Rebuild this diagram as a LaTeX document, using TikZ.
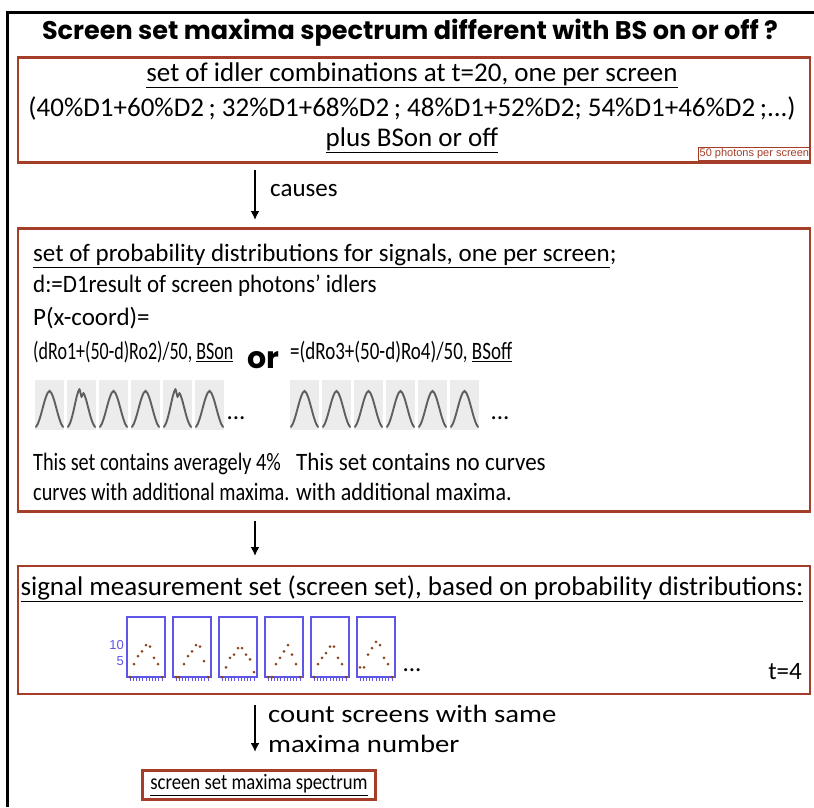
\documentclass[tikz,border=0pt]{standalone}
\usepackage{fontspec}
\setmainfont{Carlito}
\newfontfamily\headfont{Poppins}
\newfontfamily\tagfont{Liberation Sans}
\usetikzlibrary{positioning,arrows.meta}
\definecolor{boxred}{RGB}{165,62,40}
\definecolor{scrblue}{RGB}{95,85,230}
\definecolor{dotbrown}{RGB}{140,70,30}
\definecolor{thumbgray}{RGB}{236,236,236}
\definecolor{curvegray}{RGB}{95,95,95}
\def\bellthumb(#1){%
  \fill[thumbgray] (#1,380) rectangle ++(29,50);
  \draw[curvegray, line width=1.9pt, line cap=round] (#1+1,427) .. controls (#1+6,421) and (#1+10,392) .. (#1+14.5,391) .. controls (#1+19,392) and (#1+23,421) .. (#1+28,427);}
\def\bumpthumb(#1){%
  \fill[thumbgray] (#1,380) rectangle ++(29,50);
  \draw[curvegray, line width=1.9pt, line cap=round, line join=round] (#1+1,427) .. controls (#1+6,421) and (#1+9,393) .. (#1+12.5,389) -- (#1+14.5,397) -- (#1+16.5,393) .. controls (#1+20,398) and (#1+23,421) .. (#1+28,427);}
\tikzset{
  redbox/.style={draw=boxred, line width=2.5pt, inner sep=0pt},
  txt/.style={inner sep=0pt, font=\fontsize{25}{30}\selectfont},
  bigtxt/.style={inner sep=0pt, font=\fontsize{27}{32}\selectfont},
  flow/.style={line width=2pt, -{Latex[length=9pt,width=9pt]}},
}
\begin{document}
\begin{tikzpicture}[x=1pt,y=-1pt]
  \useasboundingbox (0,0) rectangle (814,807);
  %%%%% frame %%%%%
  \draw[line width=3pt] (7,807) -- (7,12) -- (814,12);
  \node[inner sep=0pt, font=\headfont\bfseries\fontsize{25.5}{28}\selectfont] (title) at (410,33) {Screen set maxima spectrum different with BS on or off ?};

  %%%%% idlers %%%%%
  \node[redbox, minimum width=792pt, minimum height=105pt] (idlers) at (414,110) {};
  \node[bigtxt] (idl1) at (412,75) {\underline{set of idler combinations at t=20, one per screen}};
  \node[bigtxt] (idl2) at (412,108) {(40\%D1+60\%D2\,; 32\%D1+68\%D2\,; 48\%D1+52\%D2; 54\%D1+46\%D2\,;...)};
  \node[bigtxt] (idl3) at (412,140) {\underline{plus BSon or off}};
  \node[draw=boxred, line width=0.8pt, text=boxred, inner sep=1.5pt, font=\tagfont\fontsize{11}{12}\selectfont, anchor=south east] (photons) at (811,161) {50 photons per screen};

  \coordinate (c1a) at (255,170);
  \coordinate (c1b) at (255,220);
  \draw[flow] (c1a) -- (c1b);
  \node[txt, anchor=west] (causes) at (270,191) {causes};

  %%%%% distributions %%%%%
  \node[redbox, minimum width=792pt, minimum height=283pt] (probs) at (414,370) {};
  \node[txt, anchor=west] (pr1) at (33,256) {\underline{set of probability distributions for signals, one per screen};};
  \node[txt, anchor=west] (pr2) at (33,286) {\scalebox{0.92}[1]{d:=D1result of screen photons’ idlers}};
  \node[txt, anchor=west] (pr3) at (33,318) {P(x-coord)=};
  \node[txt, anchor=west] (bson) at (33,352) {\scalebox{0.72}[1]{(dRo1+(50-d)Ro2)/50, \underline{BSon}}};
  \node[inner sep=0pt, font=\headfont\bfseries\fontsize{30}{32}\selectfont] (ortxt) at (263,360) {or};
  \node[txt, anchor=west] (bsoff) at (290,352) {\scalebox{0.76}[1]{=(dRo3+(50-d)Ro4)/50, \underline{BSoff}}};

  \bellthumb(35)
  \bumpthumb(67)
  \bellthumb(99)
  \bellthumb(131)
  \bumpthumb(163)
  \bellthumb(195)
  \foreach \x in {290,322,354,386,418,450} {\bellthumb(\x)}
  \node[txt] (moreon) at (236,418) {...};
  \node[txt] (moreoff) at (500,418) {...};

  \node[txt, anchor=west, align=left] (onnote) at (33,477) {\scalebox{0.81}[1]{This set contains averagely 4\%}\\\scalebox{0.81}[1]{curves with additional maxima.}};
  \node[txt, anchor=west, align=left] (offnote) at (296,477) {\scalebox{0.92}[1]{This set contains no curves}\\\scalebox{0.88}[1]{with additional maxima.}};

  \coordinate (c2a) at (255,521);
  \coordinate (c2b) at (255,556);
  \draw[flow] (c2a) -- (c2b);

  %%%%% screens %%%%%
  \node[redbox, minimum width=792pt, minimum height=128pt] (screens) at (414,630) {};
  \node[bigtxt] (sc1) at (412,589) {\underline{signal measurement set (screen set), based on probability distributions:}};
  \foreach \k/\pts in {0/{3/0,7/4,11/6.5,15/8,19/10,23/9.5,27/6,31/4,35/0},
                       1/{3/0,6/0,11/4,15/6.5,19/8,23/10,27/9.5,31/5,35/0},
                       2/{3/0,7/3,11/6,15/7,19/9,23/9,27/7,31/5.5,35/1.5},
                       3/{3/0,7/0,11/4,15/6,19/8,23/10,27/7,31/4,35/0},
                       4/{3/0,7/4,11/6,15/7.5,19/9.5,23/9.5,27/6,31/4,35/0},
                       5/{3/3,7/3,11/7,15/9,19/11,23/10,27/6,31/4,35/0}} {
    \draw[scrblue, line width=2pt] (127+46*\k,617) rectangle ++(38,60);
    \foreach \t in {0,...,10} {\draw[scrblue, line width=0.8pt] (130+46*\k+3.2*\t,677) -- ++(0,4);}
    \foreach \u/\v in \pts {\fill[dotbrown] (127+46*\k+\u,677-3.2*\v) circle (1.5);}
  }
  \node[inner sep=1pt, anchor=east, text=scrblue, font=\tagfont\fontsize{13}{13}\selectfont] (ten) at (125,645) {10};
  \node[inner sep=1pt, anchor=east, text=scrblue, font=\tagfont\fontsize{13}{13}\selectfont] (five) at (125,661) {5};
  \node[txt] (morescr) at (412,670) {...};
  \node[txt] (tfour) at (785,672) {t=4};

  \coordinate (c3a) at (255,705);
  \coordinate (c3b) at (255,752);
  \draw[flow] (c3a) -- (c3b);
  \node[txt, anchor=west, align=left] (count) at (268,729) {\scalebox{1.15}[1]{count screens with same}\\\scalebox{1.15}[1]{maxima number}};

  %%%%% result %%%%%
  \node[draw=boxred, line width=2.5pt, inner xsep=8pt, inner ysep=4pt, font=\fontsize{22}{26}\selectfont] (spectrum) at (259,785) {\scalebox{0.85}[1]{\underline{screen set maxima spectrum}}};
\end{tikzpicture}
\end{document}
